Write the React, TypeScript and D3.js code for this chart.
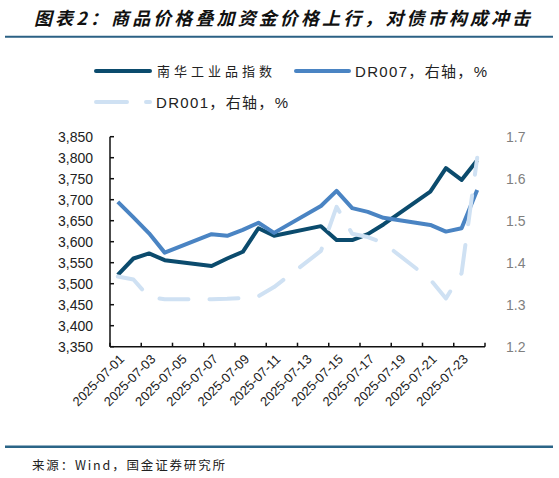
import React from 'react';
import * as d3 from 'd3';

// trading days in July 2025 (day of month)
const days = [1, 2, 3, 4, 7, 8, 9, 10, 11, 14, 15, 16, 17, 18, 21, 22, 23, 24];
const nanhua = [3521, 3560, 3572, 3556, 3542, 3560, 3576, 3632, 3614, 3637, 3604, 3604, 3618, 3641, 3719, 3775, 3747, 3794];
const dr007 = [1.545, 1.508, 1.47, 1.424, 1.468, 1.464, 1.478, 1.495, 1.471, 1.535, 1.571, 1.53, 1.521, 1.507, 1.49, 1.474, 1.482, 1.573];
const dr001 = [1.367, 1.36, 1.318, 1.313, 1.313, 1.314, 1.316, 1.32, 1.342, 1.428, 1.533, 1.469, 1.461, 1.447, 1.36, 1.315, 1.375, 1.65];
const labelDays = [1, 3, 5, 7, 9, 11, 13, 15, 17, 19, 21, 23];
const leftTicks = [3350, 3400, 3450, 3500, 3550, 3600, 3650, 3700, 3750, 3800, 3850];
const rightTicks = [1.2, 1.3, 1.4, 1.5, 1.6, 1.7];

const DARK = '#0b4b6d';
const MID = '#4a84c3';
const LIGHT = '#cfe1f3';
const SANS = '"Liberation Sans", Arial, "Noto Sans CJK SC", sans-serif';
const CJK = '"Liberation Sans", "Noto Sans CJK SC", sans-serif';

const x = d3.scaleLinear().domain([0, 24]).range([110, 485]);
const yL = d3.scaleLinear().domain([3350, 3850]).range([346.7, 136.7]);
const yR = d3.scaleLinear().domain([1.2, 1.7]).range([346.7, 136.7]);
const dayX = (d: number) => x(d - 0.5);

const lineL = d3.line<number>().x((_, i) => dayX(days[i])).y((v) => yL(v));
const lineR = d3.line<number>().x((_, i) => dayX(days[i])).y((v) => yR(v));
const fmt = d3.format(',');

export default function App() {
  const [x0, x1] = x.range();
  const [yb, yt] = yL.range();
  return (
    <svg width={559} height={478} style={{ position: 'absolute', left: 0, top: 0, background: '#fff' }}>
      <text x={34} y={25} fontFamily='"Noto Sans CJK SC", sans-serif' fontSize={18} fontWeight="bold"
        fontStyle="italic" fill="#111" textLength={496} lengthAdjust="spacing">
        图表2：商品价格叠加资金价格上行，对债市构成冲击
      </text>
      <line x1={5} x2={553} y1={36.7} y2={36.7} stroke="#2b6184" strokeWidth={2} />

      {/* legend */}
      <line x1={96} x2={150} y1={71} y2={71} stroke={DARK} strokeWidth={4} strokeLinecap="round" />
      <text x={157} y={76} fontFamily={CJK} fontSize={13} fill="#222" textLength={115} lengthAdjust="spacing">南华工业品指数</text>
      <line x1={296} x2={349} y1={71} y2={71} stroke={MID} strokeWidth={4} strokeLinecap="round" />
      <text x={355} y={77} fontFamily={CJK} fontSize={15} fill="#222" textLength={132} lengthAdjust="spacing">DR007，右轴，%</text>
      <line x1={96} x2={150} y1={102} y2={102} stroke={LIGHT} strokeWidth={4} strokeLinecap="round" strokeDasharray="31 19" />
      <text x={156} y={108} fontFamily={CJK} fontSize={15} fill="#222" textLength={132} lengthAdjust="spacing">DR001，右轴，%</text>

      {/* axes */}
      <g stroke="#111" strokeWidth={1.5} fill="none">
        <line x1={x0} x2={x0} y1={yt} y2={yb} />
        <line x1={x0} x2={x1} y1={yb} y2={yb} />
        {leftTicks.map((t) => (
          <line key={t} x1={x0} x2={x0 + 4} y1={yL(t)} y2={yL(t)} />
        ))}
        {d3.range(0, 25, 2).map((d) => (
          <line key={d} x1={x(d)} x2={x(d)} y1={yb} y2={yb - 4} />
        ))}
      </g>
      {leftTicks.map((t) => (
        <text key={t} x={93} y={yL(t)} dy="0.35em" textAnchor="end" fontFamily={SANS} fontSize={14} fill="#222">
          {fmt(t)}
        </text>
      ))}
      {rightTicks.map((t) => (
        <text key={t} x={506} y={yR(t)} dy="0.35em" fontFamily={SANS} fontSize={14} fill="#7f7f7f">
          {t.toFixed(1)}
        </text>
      ))}
      {labelDays.map((d) => (
        <text key={d} transform={`translate(${dayX(d) + 4},${yb + 10}) rotate(-45)`} textAnchor="end"
          dy="0.35em" fontFamily={SANS} fontSize={13} fill="#222">
          {`2025-07-${String(d).padStart(2, '0')}`}
        </text>
      ))}

      {/* series */}
      <path d={lineL(nanhua) ?? ''} fill="none" stroke={DARK} strokeWidth={4} strokeLinejoin="round" />
      <path d={lineR(dr007) ?? ''} fill="none" stroke={MID} strokeWidth={4} strokeLinejoin="round" />
      <path d={lineR(dr001) ?? ''} fill="none" stroke={LIGHT} strokeWidth={4} strokeLinejoin="round"
        strokeLinecap="round" strokeDasharray="29 21" />

      <line x1={5} x2={553} y1={446.7} y2={446.7} stroke="#2b6587" strokeWidth={2.5} />
      <text x={32} y={470} fontFamily='"Noto Sans CJK SC", monospace' fontSize={12.5} fill="#222"
        textLength={193} lengthAdjust="spacing">
        来源：Wind，国金证券研究所
      </text>
    </svg>
  );
}
